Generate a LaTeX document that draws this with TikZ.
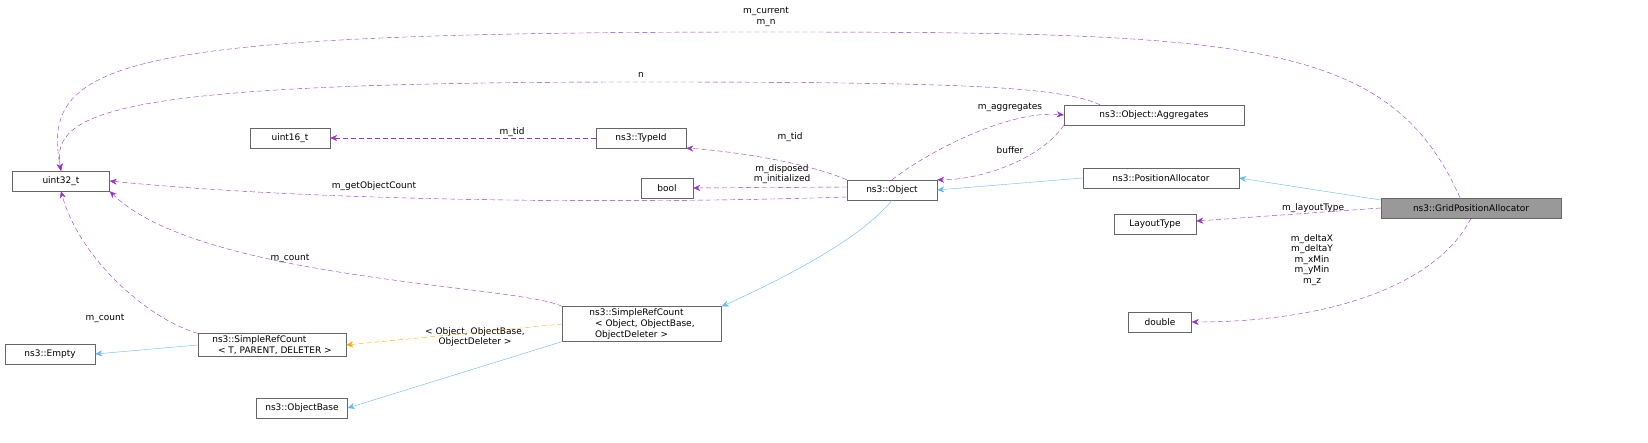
\documentclass[tikz,border=0pt]{standalone}
\usepackage{fontspec}
\setmainfont{DejaVu Sans}
\usetikzlibrary{arrows.meta,positioning}
\definecolor{usepurple}{HTML}{9A32CD}
\definecolor{inhblue}{HTML}{63B8FF}
\definecolor{tmplorange}{HTML}{FFA500}
\definecolor{boxgray}{HTML}{666666}
\definecolor{curgray}{HTML}{999999}

\begin{document}
\begin{tikzpicture}[x=1pt, y=-1pt,
  cls/.style={rectangle, draw=boxgray, fill=white, inner sep=2pt,
    minimum height=20pt, align=center, font=\fontsize{9}{11}\selectfont},
  lbl/.style={align=center, inner sep=0pt, font=\fontsize{9}{10.5}\selectfont},
  use/.style={-{Stealth[length=7pt,width=6pt]}, usepurple, dash pattern=on 5pt off 3pt},
  inh/.style={-{Stealth[length=7pt,width=6pt]}, inhblue},
  tmpl/.style={-{Stealth[length=7pt,width=6pt]}, tmplorange, dash pattern=on 5pt off 3pt}
]
  \path[use as bounding box] (0,0) rectangle (1648,443);

  % classes
  \node[cls, minimum width=97pt] (uint32) at (61,181) {uint32\_t};
  \node[cls, minimum width=90pt] (empty) at (50,354) {ns3::Empty};
  \node[cls, minimum width=80pt] (uint16) at (290,138) {uint16\_t};
  \node[cls, minimum width=52pt] (bool) at (667,188) {bool};
  \node[cls, minimum width=90pt] (typeid) at (641,138) {ns3::TypeId};
  \node[cls, minimum width=90pt] (object) at (892,190) {ns3::Object};
  \node[cls, minimum width=180pt] (aggr) at (1154,115) {ns3::Object::Aggregates};
  \node[cls, minimum width=156pt] (posalloc) at (1161,178) {ns3::PositionAllocator};
  \node[cls, minimum width=180pt, fill=curgray] (grid) at (1471,208) {ns3::GridPositionAllocator};
  \node[cls, minimum width=82pt] (layout) at (1155,224) {LayoutType};
  \node[cls, minimum width=63pt] (double) at (1160,322) {double};
  \node[cls, minimum width=148pt, align=left] (srcT) at (272,345)
    {ns3::SimpleRefCount\\\ \ < T, PARENT, DELETER >};
  \node[cls, minimum width=159pt, align=left] (srcObj) at (642,324)
    {ns3::SimpleRefCount\\\ \ < Object, ObjectBase,\\\ \ ObjectDeleter >};
  \node[cls, minimum width=91pt] (objbase) at (302,408) {ns3::ObjectBase};

  % labels
  \node[lbl] (lcur) at (766,17) {m\_current\\m\_n};
  \node[lbl] (ln) at (641,75) {n};
  \node[lbl] (ltid1) at (512,132) {m\_tid};
  \node[lbl] (ltid2) at (790,137) {m\_tid};
  \node[lbl] (lagg) at (1010,107) {m\_aggregates};
  \node[lbl] (lbuf) at (1010,150) {buffer};
  \node[lbl] (ldisp) at (782,174) {m\_disposed\\m\_initialized};
  \node[lbl] (lgoc) at (374,186) {m\_getObjectCount};
  \node[lbl] (llay) at (1313,208) {m\_layoutType};
  \node[lbl] (ldelta) at (1312,260) {m\_deltaX\\m\_deltaY\\m\_xMin\\m\_yMin\\m\_z};
  \node[lbl] (lcnt1) at (290,258) {m\_count};
  \node[lbl] (lcnt2) at (105,318) {m\_count};
  \node[lbl] (ltmpl) at (475,337) {< Object, ObjectBase,\\ObjectDeleter >};

  % usage connectors
  \draw[use] (grid.north -| 1460,0) .. controls (1390,40) and (1250,32) .. (766,32)
    .. controls (120,32) and (40,60) .. (uint32.north);
  \draw[use] (aggr.north -| 1100,0) .. controls (1060,86) and (950,82) .. (641,82)
    .. controls (120,82) and (50,110) .. (uint32.north);
  \draw[use] (typeid) -- (uint16);
  \draw[use] (object.north west) .. controls (800,160) and (720,150) .. (typeid.south east);
  \draw[use] (object.north) .. controls (930,150) and (1010,110) .. (aggr.west);
  \draw[use] (aggr.south west) .. controls (1040,160) and (980,180) .. (object.north east);
  \draw[use] (object.west |- 0,187) -- (bool.east);
  \draw[use] (object.west |- 0,197) .. controls (600,205) and (300,200) .. (uint32.east);
  \draw[use] (grid.west) -- (layout);
  \draw[use] (grid.south) .. controls (1440,280) and (1340,322) .. (double.east);
  \draw[use] (srcObj.north west) .. controls (520,285) and (200,280) .. (uint32.south east);
  \draw[use] (srcT.north west) .. controls (150,320) and (80,260) .. (uint32.south);

  % inheritance and templates
  \draw[inh] (grid.west |- 0,200) -- (posalloc.east);
  \draw[inh] (posalloc.west) -- (object.east);
  \draw[inh] (object.south) .. controls (860,240) and (780,280) .. (srcObj.north east);
  \draw[inh] (srcT.west) -- (empty.east);
  \draw[inh] (srcObj.south west) -- (objbase.east);
  \draw[tmpl] (srcObj.west) -- (srcT.east);
\end{tikzpicture}
\end{document}
